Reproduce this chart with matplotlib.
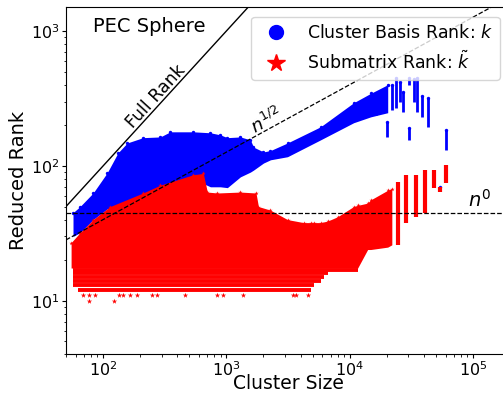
import numpy as np
import matplotlib.pyplot as plt
from matplotlib.lines import Line2D

# cluster basis rank k: envelope of the dense cloud (cluster size, rank)
blue_x = [57, 65, 83, 108, 132, 157, 211, 291, 351, 539, 742, 893, 1019, 1300,
          1567, 1659, 2000, 2280, 3134, 5810, 10780, 14820, 20370]
blue_hi = [45, 50, 63, 89, 125, 148, 162, 164, 179, 179, 176, 170, 162, 164,
           156, 138, 127, 130, 148, 195, 294, 345, 400]
blue_lo = [30, 32, 40, 48, 52, 55, 60, 68, 72, 80, 70, 70, 69, 83,
           90, 93, 105, 111, 117, 156, 209, 231, 248]

# sparse streaks of k at the largest clusters
blue_sx = [16300, 18000, 20000, 22000, 23700, 25500, 27000, 30200, 30200,
           33000, 35100, 39000, 43100, 53700, 60300]
blue_slo = [239, 250, 164, 260, 270, 300, 252, 400, 156, 300, 252, 230, 195, 66, 131]
blue_shi = [330, 360, 212, 400, 451, 420, 355, 451, 192, 440, 451, 330, 320, 70, 185]

# submatrix rank k~: envelope of the dense cloud above the lowest rank rows
red_x = [55, 65, 83, 114, 211, 291, 539, 650, 701, 846, 1300, 1740, 1820, 2280,
         3134, 4230, 4820, 5100, 5810, 6620, 7990, 10780, 11620, 14000, 14820,
         20370, 22000]
red_hi = [27, 32, 40, 50, 63, 72, 86, 88, 64, 63, 64, 63, 50, 47,
          40, 38, 38, 38, 38, 39, 42, 50, 51, 53, 56, 66, 68]
red_lo = [17.5, 17.5, 17.5, 17.5, 17.5, 17.5, 17.5, 17.5, 17.5, 17.5, 17.5, 17.5,
          17.5, 17.5, 17.5, 17.5, 17.5, 17.5, 17.5, 17.5, 17.5, 17.5, 17.5,
          24, 24, 25, 26]

# lowest integer rank rows of k~ (rank, first and last cluster size)
row_rank = [12, 13, 14, 15, 16, 17]
row_start = [62, 57, 57, 57, 57, 57]
row_end = [4820, 5100, 5810, 6200, 6620, 11620]

# sparse streaks of k~
red_sx = [24560, 28600, 34600, 40800, 48200, 53700, 60300]
red_slo = [26, 38, 42, 45, 69, 64, 75]
red_shi = [76, 86, 86, 93, 93, 70, 102]

# isolated low ranks
rank11_x = [69, 77, 86, 135, 146, 166, 189, 250, 275, 464, 847, 944, 1374, 3490, 3700, 4560]
rank10_x = [77, 123]

# reference slopes
sqrt_coef = 4.0
const_rank = 45

fig = plt.figure(figsize=(5.03, 3.93), dpi=100)
ax = fig.add_axes([0.1312, 0.098, 0.8827, 0.8835])
ax.set_xscale('log')
ax.set_yscale('log')

ax.fill_between(blue_x, blue_lo, blue_hi, color='blue', lw=0, zorder=1)
ax.scatter(blue_x, blue_hi, s=6, color='blue', marker='o', lw=0, zorder=1)
ax.vlines(blue_sx, blue_slo, blue_shi, color='blue', lw=2, zorder=1)
ax.scatter(blue_sx, blue_shi, s=6, color='blue', marker='o', lw=0, zorder=1)

ax.fill_between(red_x, red_lo, red_hi, color='red', lw=0, zorder=2)
ax.hlines(row_rank, row_start, row_end, color='red', lw=2.8, zorder=2)
ax.scatter(red_x, red_hi, s=10, color='red', marker='*', lw=0, zorder=2)
ax.vlines(red_sx, red_slo, red_shi, color='red', lw=3, zorder=2)
ax.scatter(rank11_x, [11] * len(rank11_x), s=16, color='red', marker='*', lw=0, zorder=2)
ax.scatter(rank10_x, [10] * len(rank10_x), s=16, color='red', marker='*', lw=0, zorder=2)

n = np.logspace(np.log10(50), np.log10(2e5), 50)
ax.plot(n, n, color='black', lw=1, zorder=3)
ax.plot(n, sqrt_coef * np.sqrt(n), color='black', lw=0.9, ls='--', zorder=3)
ax.plot(n, np.full_like(n, const_rank), color='black', lw=0.9, ls='--', zorder=3)

ax.text(270, 326, 'Full Rank', rotation=47.6, ha='center', va='center', fontsize=12.5)
ax.text(2113, 216, r'$n^{1/2}$', rotation=28.7, ha='center', va='center', fontsize=13)
ax.text(1.14e5, 56, r'$n^0$', ha='center', va='center', fontsize=14)
ax.text(0.06, 0.945, 'PEC Sphere', transform=ax.transAxes, ha='left', va='center', fontsize=14)

ax.set_xlim(50, 2e5)
ax.set_ylim(4, 1500)
ax.set_xlabel('Cluster Size', fontsize=13.5, labelpad=-4)
ax.set_ylabel('Reduced Rank', fontsize=14, labelpad=2)
ax.tick_params(which='major', labelsize=11.5, length=3, pad=1.5)
ax.tick_params(which='minor', length=1.8)

handles = [Line2D([], [], marker='o', color='blue', ls='', ms=10),
           Line2D([], [], marker='*', color='red', ls='', ms=13)]
ax.legend(handles, [r'Cluster Basis Rank: $k$', r'Submatrix Rank: $\tilde{k}$'],
          loc='upper right', bbox_to_anchor=(0.977, 0.972), borderaxespad=0,
          fontsize=12.5)

plt.savefig('out.png', dpi=100)
